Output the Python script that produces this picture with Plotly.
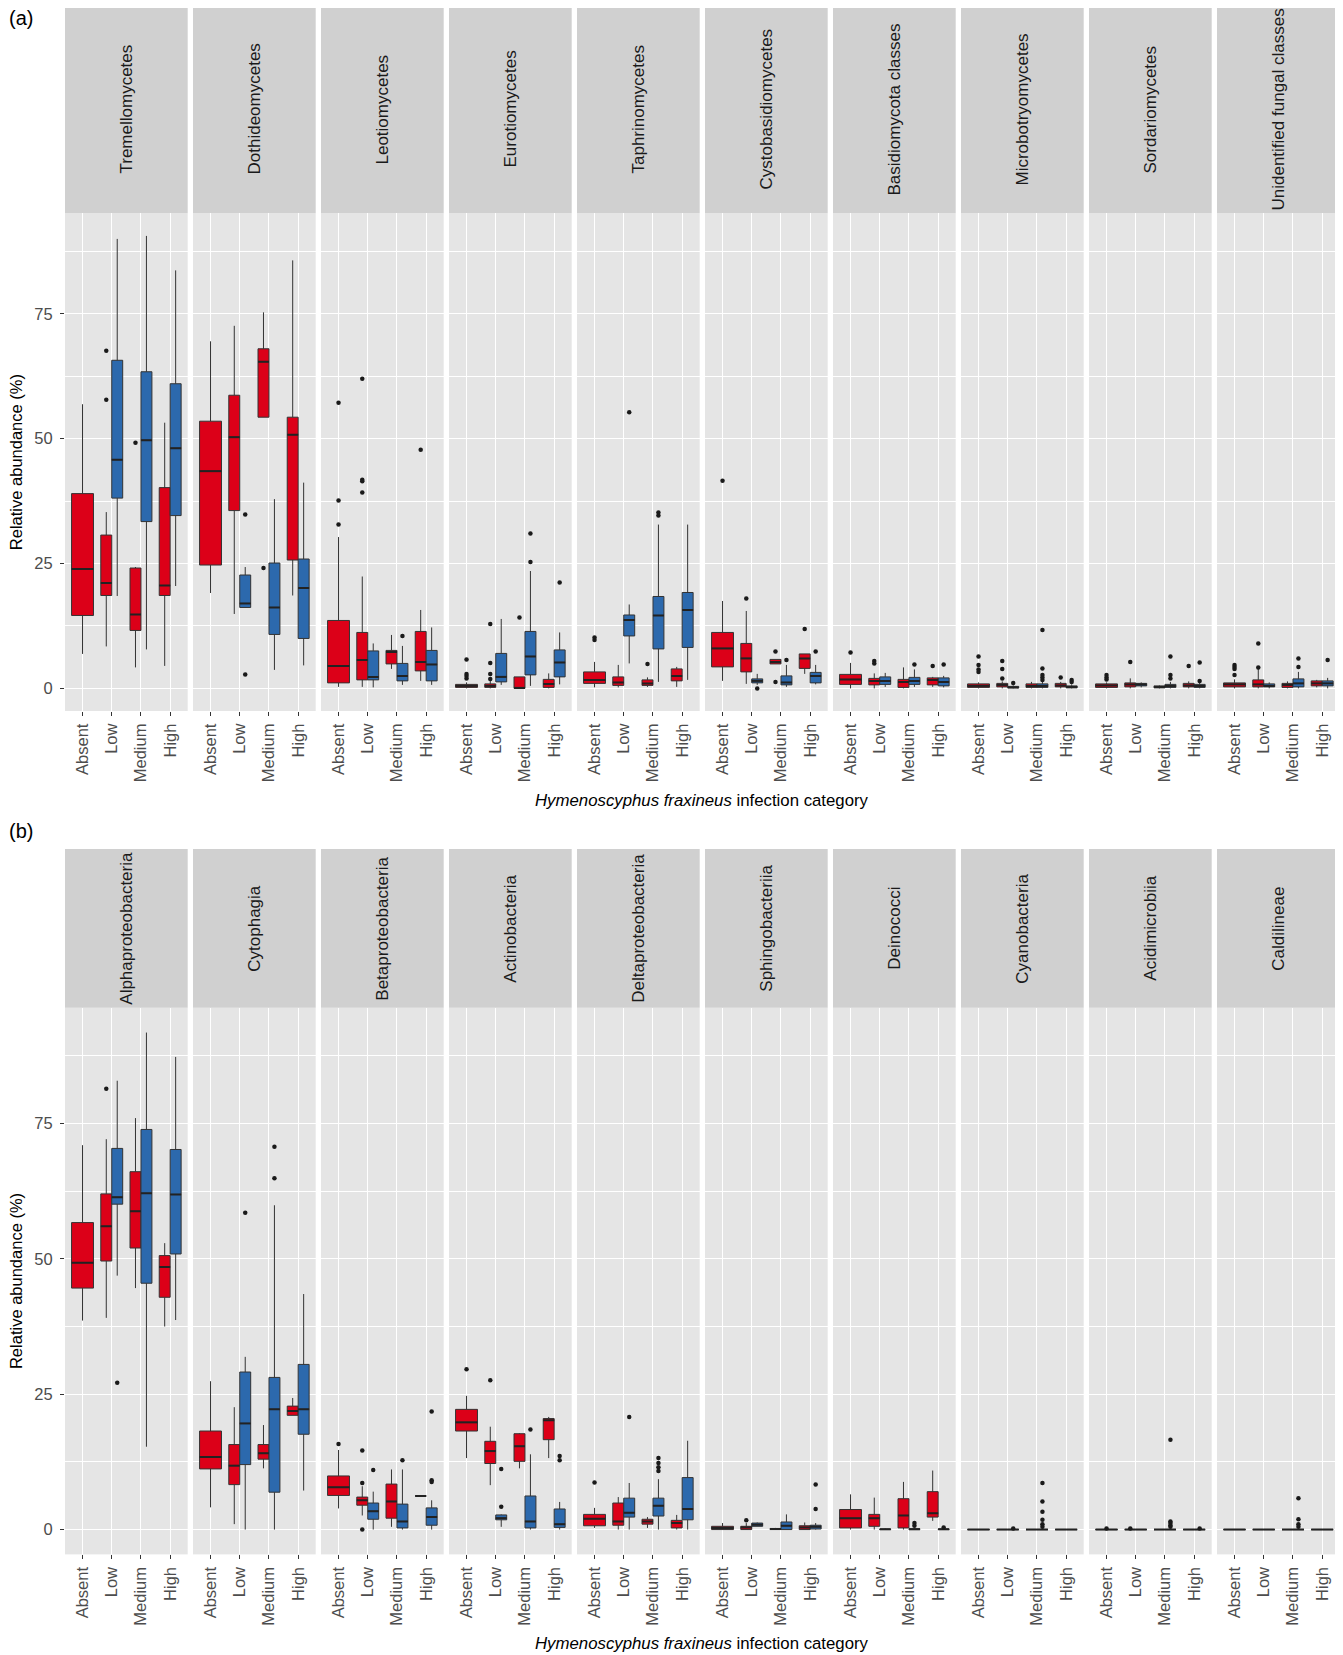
import plotly.graph_objects as go

W, H = 1343, 1655
OFF = 8  # browser body margin; positions below are in window pixels
FW, FH = W - OFF, H - OFF

categories = ["Absent", "Low", "Medium", "High"]

fungal_classes = ["Tremellomycetes", "Dothideomycetes", "Leotiomycetes", "Eurotiomycetes",
                  "Taphrinomycetes", "Cystobasidiomycetes", "Basidiomycota classes",
                  "Microbotryomycetes", "Sordariomycetes", "Unidentified fungal classes"]

bacterial_classes = ["Alphaproteobacteria", "Cytophagia", "Betaproteobacteria", "Actinobacteria",
                     "Deltaproteobacteria", "Sphingobacteriia", "Deinococci", "Cyanobacteria",
                     "Acidimicrobiia", "Caldilineae"]

# box statistics: [lower whisker, Q1, median, Q3, upper whisker]
# red series: Absent, Low, Medium, High ; blue series: Low, Medium, High
fungi_red = [
    [[6.9, 14.6, 23.9, 39.0, 56.9], [8.4, 18.6, 21.1, 30.7, 35.3], [4.2, 11.6, 14.8, 24.1, 24.3], [4.5, 18.6, 20.6, 40.2, 53.2]],
    [[19.1, 24.7, 43.5, 53.5, 69.5], [14.9, 35.6, 50.3, 58.7, 72.6], [54.3, 54.3, 65.4, 68.0, 75.3], [18.6, 25.7, 50.8, 54.3, 85.7]],
    [[0.3, 1.1, 4.5, 13.6, 30.3], [0.3, 1.7, 5.7, 11.2, 22.4], [3.9, 4.9, 7.3, 7.6, 10.7], [1.5, 3.5, 5.3, 11.4, 15.7]],
    [[0.0, 0.2, 0.5, 0.8, 1.2], [0.0, 0.2, 0.5, 0.9, 1.5], [0.0, 0.0, 0.1, 2.3, 2.3], [0.0, 0.2, 0.9, 1.8, 3.0]],
    [[0.2, 1.0, 1.7, 3.3, 5.3], [0.2, 0.6, 1.2, 2.3, 4.7], [0.3, 0.6, 1.0, 1.7, 2.2], [0.3, 1.5, 2.5, 3.9, 4.3]],
    [[1.5, 4.3, 8.0, 11.2, 17.5], [0.9, 3.3, 6.0, 9.0, 15.5], [4.9, 4.9, 5.3, 5.8, 5.8], [2.9, 4.0, 6.0, 6.9, 6.9]],
    [[0.0, 0.8, 1.8, 2.8, 5.1], [0.0, 0.7, 1.5, 2.0, 3.0], [0.0, 0.2, 1.3, 1.8, 4.2], [0.3, 0.7, 1.7, 2.1, 2.3]],
    [[0.0, 0.2, 0.5, 0.9, 1.2], [0.0, 0.3, 0.7, 1.0, 1.4], [0.0, 0.2, 0.5, 0.9, 1.3], [0.0, 0.3, 0.6, 1.0, 1.3]],
    [[0.0, 0.2, 0.6, 0.9, 1.2], [0.0, 0.3, 0.8, 1.1, 2.0], [0.0, 0.1, 0.3, 0.5, 0.6], [0.0, 0.3, 0.6, 1.0, 1.4]],
    [[0.0, 0.3, 0.8, 1.1, 1.8], [0.0, 0.3, 0.8, 1.7, 4.1], [0.0, 0.2, 0.7, 1.0, 1.4], [0.2, 0.5, 1.0, 1.5, 1.7]],
]
fungi_blue = [
    [[18.5, 38.1, 45.8, 65.7, 90.0], [7.8, 33.4, 49.7, 63.4, 90.6], [20.5, 34.6, 48.1, 61.0, 83.7]],
    [[16.2, 16.2, 17.0, 22.7, 24.3], [3.7, 10.8, 16.2, 25.1, 37.9], [4.6, 10.0, 20.1, 25.9, 41.2]],
    [[0.2, 1.7, 2.3, 7.5, 9.0], [0.7, 1.5, 2.5, 5.0, 8.5], [0.7, 1.5, 4.8, 7.6, 12.2]],
    [[0.7, 1.3, 2.3, 7.0, 13.9], [0.5, 2.7, 6.4, 11.4, 23.5], [0.8, 2.3, 5.2, 7.7, 11.2]],
    [[5.0, 10.5, 13.7, 14.7, 16.8], [1.3, 7.9, 14.6, 18.4, 32.8], [1.7, 8.2, 15.7, 19.2, 32.8]],
    [[0.7, 1.1, 1.5, 1.9, 2.9], [0.3, 0.7, 1.2, 2.5, 4.7], [0.8, 1.1, 2.5, 3.2, 4.7]],
    [[0.3, 0.8, 1.5, 2.3, 3.1], [0.3, 0.8, 1.5, 2.2, 3.8], [0.2, 0.5, 1.3, 2.1, 2.5]],
    [[0.0, 0.1, 0.2, 0.4, 0.6], [0.0, 0.2, 0.5, 0.9, 1.3], [0.0, 0.1, 0.3, 0.5, 0.8]],
    [[0.2, 0.5, 0.8, 1.0, 1.2], [0.0, 0.2, 0.5, 0.8, 1.3], [0.0, 0.2, 0.5, 0.8, 1.2]],
    [[0.0, 0.3, 0.5, 0.9, 1.2], [0.0, 0.3, 1.0, 1.9, 3.3], [0.0, 0.5, 1.0, 1.5, 2.1]],
]
# outliers: (category index, series, value)
fungi_outliers = [
    [(1, "red", 67.6), (1, "red", 57.8), (2, "red", 49.2)],
    [(1, "blue", 34.8), (1, "blue", 2.8), (2, "red", 24.1)],
    [(0, "red", 57.2), (0, "red", 37.6), (0, "red", 32.8), (1, "red", 62.0), (1, "red", 41.8),
     (1, "red", 41.5), (1, "red", 39.2), (2, "blue", 10.5), (3, "red", 47.8)],
    [(0, "red", 5.8), (0, "red", 2.9), (0, "red", 2.5), (0, "red", 2.0), (1, "red", 12.9), (1, "red", 5.1),
     (1, "red", 2.9), (1, "red", 1.9), (2, "red", 14.2), (2, "blue", 31.0), (2, "blue", 25.3), (3, "blue", 21.2)],
    [(0, "red", 10.2), (0, "red", 9.7), (1, "blue", 55.3), (2, "red", 4.9), (2, "blue", 35.2), (2, "blue", 34.6)],
    [(0, "red", 41.6), (1, "red", 18.0), (1, "blue", 0.0), (2, "red", 7.4), (2, "red", 1.3), (2, "blue", 5.7),
     (3, "red", 11.9), (3, "blue", 7.4)],
    [(0, "red", 7.2), (1, "red", 5.5), (1, "red", 5.0), (2, "blue", 4.8), (3, "red", 4.5), (3, "blue", 4.8)],
    [(0, "red", 6.4), (0, "red", 4.7), (0, "red", 3.8), (0, "red", 3.3), (1, "red", 5.5), (1, "red", 3.9),
     (1, "red", 2.0), (1, "blue", 1.1), (2, "blue", 11.7), (2, "blue", 4.0), (2, "blue", 2.7), (2, "blue", 2.2),
     (2, "blue", 1.7), (3, "red", 2.2), (3, "blue", 1.7), (3, "blue", 1.3)],
    [(0, "red", 2.7), (0, "red", 2.2), (0, "red", 1.8), (1, "red", 5.3), (2, "blue", 6.4), (2, "blue", 2.7),
     (2, "blue", 2.0), (3, "red", 4.5), (3, "blue", 5.2), (3, "blue", 1.5)],
    [(0, "red", 4.7), (0, "red", 4.3), (0, "red", 3.9), (0, "red", 2.7), (1, "red", 9.0), (1, "red", 4.2),
     (2, "blue", 6.0), (2, "blue", 4.3), (3, "blue", 5.7)],
]

bact_red = [
    [[38.6, 44.6, 49.3, 56.7, 71.0], [39.1, 49.6, 56.0, 62.0, 72.1], [44.6, 52.0, 58.8, 66.1, 76.0], [37.5, 42.9, 48.5, 50.6, 52.9]],
    [[4.1, 11.2, 13.4, 18.2, 27.4], [1.0, 8.3, 11.8, 15.7, 22.6], [11.3, 13.0, 14.1, 15.7, 19.3], [21.1, 21.1, 21.9, 22.8, 24.3]],
    [[3.9, 6.3, 7.8, 9.9, 14.7], [2.6, 4.5, 5.4, 6.0, 8.0], [0.5, 2.1, 5.2, 8.4, 11.1], [6.2, 6.2, 6.2, 6.2, 6.2]],
    [[13.2, 18.2, 19.8, 22.2, 24.7], [8.2, 12.2, 14.5, 16.3, 19.0], [11.3, 12.6, 15.4, 17.7, 17.8], [13.2, 16.6, 20.2, 20.5, 20.8]],
    [[0.3, 0.7, 2.0, 2.8, 4.0], [0.0, 0.8, 1.5, 4.9, 6.0], [0.3, 1.0, 1.5, 1.9, 2.3], [0.0, 0.3, 1.2, 1.7, 2.7]],
    [[0.0, 0.0, 0.3, 0.6, 1.2], [0.0, 0.0, 0.4, 0.6, 1.2], [0.0, 0.0, 0.1, 0.2, 0.3], [0.0, 0.0, 0.4, 0.7, 1.3]],
    [[0.0, 0.3, 2.1, 3.7, 6.5], [0.0, 0.6, 2.1, 2.8, 5.9], [0.0, 0.3, 2.6, 5.7, 8.8], [1.6, 2.3, 3.0, 7.0, 10.9]],
    [[0.0, 0.0, 0.0, 0.0, 0.0], [0.0, 0.0, 0.0, 0.0, 0.0], [0.0, 0.0, 0.0, 0.0, 0.0], [0.0, 0.0, 0.0, 0.0, 0.0]],
    [[0.0, 0.0, 0.0, 0.0, 0.0], [0.0, 0.0, 0.0, 0.0, 0.0], [0.0, 0.0, 0.0, 0.0, 0.0], [0.0, 0.0, 0.0, 0.0, 0.0]],
    [[0.0, 0.0, 0.0, 0.0, 0.0], [0.0, 0.0, 0.0, 0.0, 0.0], [0.0, 0.0, 0.0, 0.0, 0.0], [0.0, 0.0, 0.0, 0.0, 0.0]],
]
bact_blue = [
    [[46.9, 60.1, 61.4, 70.4, 82.9], [15.3, 45.5, 62.1, 73.9, 91.8], [38.7, 50.9, 61.9, 70.2, 87.3]],
    [[0.0, 12.0, 19.6, 29.1, 31.9], [0.0, 6.9, 22.2, 28.1, 59.9], [7.2, 17.6, 22.2, 30.5, 43.5]],
    [[0.0, 1.9, 3.4, 4.9, 7.0], [0.0, 0.3, 1.5, 4.7, 11.1], [0.0, 0.8, 2.3, 4.0, 5.4]],
    [[0.5, 1.8, 2.1, 2.7, 2.8], [0.0, 0.3, 1.5, 6.2, 13.9], [0.0, 0.4, 1.0, 3.8, 5.1]],
    [[0.0, 2.3, 3.1, 5.8, 8.6], [0.0, 2.5, 4.4, 5.8, 9.3], [0.0, 1.8, 3.8, 9.6, 16.4]],
    [[0.6, 0.6, 0.9, 1.2, 1.3], [0.0, 0.0, 0.7, 1.4, 2.8], [0.0, 0.1, 0.5, 0.8, 1.2]],
    [[0.0, 0.0, 0.05, 0.1, 0.2], [0.0, 0.0, 0.05, 0.15, 0.3], [0.0, 0.0, 0.05, 0.1, 0.2]],
    [[0.0, 0.0, 0.0, 0.0, 0.0], [0.0, 0.0, 0.0, 0.0, 0.0], [0.0, 0.0, 0.0, 0.0, 0.0]],
    [[0.0, 0.0, 0.0, 0.0, 0.0], [0.0, 0.0, 0.0, 0.0, 0.0], [0.0, 0.0, 0.0, 0.0, 0.0]],
    [[0.0, 0.0, 0.0, 0.0, 0.0], [0.0, 0.0, 0.0, 0.0, 0.0], [0.0, 0.0, 0.0, 0.0, 0.0]],
]
bact_outliers = [
    [(1, "red", 81.4), (1, "blue", 27.1)],
    [(1, "blue", 58.5), (2, "blue", 70.7), (2, "blue", 64.9)],
    [(0, "red", 15.8), (1, "red", 14.6), (1, "red", 8.6), (1, "red", 0.0), (1, "blue", 11.0), (2, "blue", 12.8),
     (3, "blue", 21.8), (3, "blue", 9.1), (3, "blue", 8.8)],
    [(0, "red", 29.6), (1, "red", 27.6), (1, "blue", 11.2), (1, "blue", 4.2), (2, "blue", 18.5),
     (3, "blue", 13.6), (3, "blue", 12.8)],
    [(0, "red", 8.7), (1, "blue", 20.8), (2, "blue", 13.2), (2, "blue", 12.3), (2, "blue", 11.5), (2, "blue", 10.8)],
    [(1, "red", 1.7), (3, "blue", 8.3), (3, "blue", 3.8)],
    [(2, "blue", 1.2), (2, "blue", 0.7), (3, "blue", 0.4)],
    [(1, "blue", 0.2), (2, "blue", 8.6), (2, "blue", 5.2), (2, "blue", 3.3), (2, "blue", 1.8), (2, "blue", 1.0),
     (2, "blue", 0.5)],
    [(0, "red", 0.2), (1, "red", 0.2), (2, "blue", 16.6), (2, "blue", 1.5), (2, "blue", 1.2), (2, "blue", 0.8),
     (2, "blue", 0.5), (3, "blue", 0.2)],
    [(2, "blue", 5.8), (2, "blue", 1.9), (2, "blue", 1.0), (2, "blue", 0.5)],
]

RED = "#DC0018"
BLUE = "#2C69AD"
EDGE = "#333333"
PANEL_BG = "#E5E5E5"
STRIP_BG = "#D0D0D0"
FONT = "Liberation Sans, Arial, sans-serif"

panels = [
    dict(classes=fungal_classes, red=fungi_red, blue=fungi_blue, out=fungi_outliers,
         strip_top=5, top=213.3, bottom=711, label="(a)", label_y=18, title_y=801),
    dict(classes=bacterial_classes, red=bact_red, blue=bact_blue, out=bact_outliers,
         strip_top=849, top=1007.7, bottom=1554.4, label="(b)", label_y=831, title_y=1643),
]

FACET_LEFT = 65.0
FACET_STEP = 128.0
FACET_W = 122.7
DODGE = 0.1875
HALF_W = 0.375
FULL_W = 0.75


def pxx(v):
    return (v - OFF) / FW


def pxy(v):
    return 1 - (v - OFF) / FH


fig = go.Figure()
layout = dict(shapes=[], annotations=[])


def axis_name(idx):
    return "" if idx == 1 else str(idx)


for p, pan in enumerate(panels):
    allvals = [v for cls in pan["red"] for b in cls for v in b] + \
              [v for cls in pan["blue"] for b in cls for v in b] + \
              [o[2] for cls in pan["out"] for o in cls]
    vmax = max(allvals)
    vmin = min(allvals)
    span = vmax - vmin
    yrange = [vmin - 0.05 * span, vmax + 0.05 * span]
    ydom = [pxy(pan["bottom"]), pxy(pan["top"])]

    for k, cname in enumerate(pan["classes"]):
        idx = p * 10 + k + 1
        an = axis_name(idx)
        xa, ya = "x" + an, "y" + an
        left = FACET_LEFT + FACET_STEP * k
        right = left + FACET_W
        xdom = [pxx(left), pxx(right)]

        red = pan["red"][k]
        blue = pan["blue"][k]

        fig.add_trace(go.Box(
            x=[1], lowerfence=[red[0][0]], q1=[red[0][1]], median=[red[0][2]],
            q3=[red[0][3]], upperfence=[red[0][4]], width=FULL_W,
            fillcolor=RED, line=dict(color=EDGE, width=1), whiskerwidth=0,
            boxpoints=False, xaxis=xa, yaxis=ya, showlegend=False, hoverinfo="skip"))
        xr = [i + 1 - DODGE for i in range(1, 4)]
        fig.add_trace(go.Box(
            x=xr, lowerfence=[b[0] for b in red[1:]], q1=[b[1] for b in red[1:]],
            median=[b[2] for b in red[1:]], q3=[b[3] for b in red[1:]],
            upperfence=[b[4] for b in red[1:]], width=HALF_W,
            fillcolor=RED, line=dict(color=EDGE, width=1), whiskerwidth=0,
            boxpoints=False, xaxis=xa, yaxis=ya, showlegend=False, hoverinfo="skip"))
        xb = [i + 1 + DODGE for i in range(1, 4)]
        fig.add_trace(go.Box(
            x=xb, lowerfence=[b[0] for b in blue], q1=[b[1] for b in blue],
            median=[b[2] for b in blue], q3=[b[3] for b in blue],
            upperfence=[b[4] for b in blue], width=HALF_W,
            fillcolor=BLUE, line=dict(color=EDGE, width=1), whiskerwidth=0,
            boxpoints=False, xaxis=xa, yaxis=ya, showlegend=False, hoverinfo="skip"))

        mx, my = [], []
        for cx, w, b in [(1, FULL_W, red[0])] + list(zip(xr, [HALF_W] * 3, red[1:])) + \
                list(zip(xb, [HALF_W] * 3, blue)):
            mx += [cx - w / 2, cx + w / 2, None]
            my += [b[2], b[2], None]
        fig.add_trace(go.Scatter(x=mx, y=my, mode="lines", line=dict(color="#222222", width=2),
                                 xaxis=xa, yaxis=ya, showlegend=False, hoverinfo="skip"))

        ox, oy = [], []
        for ci, series, val in pan["out"][k]:
            if ci == 0:
                ox.append(1)
            else:
                ox.append(ci + 1 + (DODGE if series == "blue" else -DODGE))
            oy.append(val)
        if ox:
            fig.add_trace(go.Scatter(x=ox, y=oy, mode="markers",
                                     marker=dict(color="#1A1A1A", size=4.5),
                                     xaxis=xa, yaxis=ya, showlegend=False, hoverinfo="skip"))

        layout["xaxis" + an] = dict(
            domain=xdom, anchor=ya, range=[0.4, 4.6], tickvals=[1, 2, 3, 4], ticktext=categories,
            tickangle=-90, ticks="outside", ticklen=4, tickcolor=EDGE, tickwidth=1,
            showgrid=True, gridcolor="white", gridwidth=1.1, zeroline=False, showline=False,
            tickfont=dict(family=FONT, size=16.5, color="#4D4D4D"), ticklabelstandoff=1,
            fixedrange=True)
        ydict = dict(
            domain=ydom, anchor=xa, range=yrange, tickvals=[0, 25, 50, 75],
            showgrid=True, gridcolor="white", gridwidth=1.1, zeroline=False, showline=False,
            minor=dict(tickvals=[12.5, 37.5, 62.5, 87.5], showgrid=True, gridcolor="white",
                       gridwidth=0.55, ticks=""),
            fixedrange=True)
        if k == 0:
            ydict.update(ticks="outside", ticklen=4, tickcolor=EDGE, tickwidth=1,
                         tickfont=dict(family=FONT, size=16.5, color="#4D4D4D"),
                         ticklabelstandoff=4)
        else:
            ydict.update(showticklabels=False, ticks="")
        layout["yaxis" + an] = ydict

        layout["shapes"].append(dict(type="rect", xref="paper", yref="paper",
                                     x0=pxx(left), x1=pxx(right),
                                     y0=pxy(pan["top"]), y1=pxy(pan["strip_top"]),
                                     fillcolor=STRIP_BG, line=dict(width=0), layer="below"))
        layout["annotations"].append(dict(
            x=pxx((left + right) / 2), y=pxy((pan["top"] + pan["strip_top"]) / 2),
            xref="paper", yref="paper", text=cname, textangle=-90, showarrow=False,
            xanchor="center", yanchor="middle",
            font=dict(family=FONT, size=17, color="#1A1A1A")))

    layout["annotations"].append(dict(
        x=pxx(16), y=pxy((pan["top"] + pan["bottom"]) / 2), xref="paper", yref="paper",
        text="Relative abundance (%)", textangle=-90, showarrow=False,
        xanchor="center", yanchor="middle", font=dict(family=FONT, size=16.5, color="#000000")))
    layout["annotations"].append(dict(
        x=pxx((FACET_LEFT + FACET_STEP * 9 + FACET_W + FACET_LEFT) / 2), y=pxy(pan["title_y"]),
        xref="paper", yref="paper",
        text="<i>Hymenoscyphus fraxineus</i> infection category", showarrow=False,
        xanchor="center", yanchor="middle", font=dict(family=FONT, size=16.8, color="#000000")))
    layout["annotations"].append(dict(
        x=pxx(7), y=pxy(pan["label_y"]), xref="paper", yref="paper", text=pan["label"],
        showarrow=False, xanchor="left", yanchor="middle",
        font=dict(family=FONT, size=20, color="#000000")))

fig.update_layout(
    width=FW, height=FH, autosize=False,
    margin=dict(l=0, r=0, t=0, b=0),
    paper_bgcolor="white", plot_bgcolor=PANEL_BG,
    boxmode="overlay", showlegend=False,
    font=dict(family=FONT),
    **layout)

fig.write_html("out.html")
